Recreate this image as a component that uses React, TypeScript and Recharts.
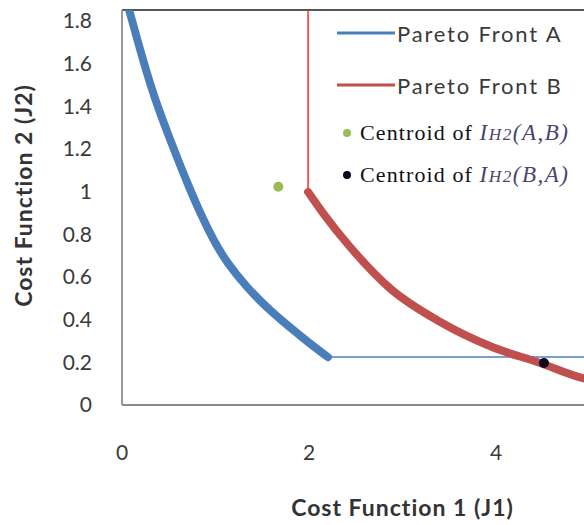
import React from 'react';
import { ScatterChart, Scatter, XAxis, YAxis, ReferenceLine } from 'recharts';

// Pareto front A (thick blue curve) and its dominated-region boundary
const frontA = [
  { x: 0.07, y: 1.86 },
  { x: 0.193, y: 1.665 },
  { x: 0.299, y: 1.505 },
  { x: 0.406, y: 1.368 },
  { x: 0.513, y: 1.245 },
  { x: 0.62, y: 1.125 },
  { x: 0.727, y: 1.01 },
  { x: 0.834, y: 0.902 },
  { x: 0.973, y: 0.776 },
  { x: 1.123, y: 0.665 },
  { x: 1.337, y: 0.55 },
  { x: 1.551, y: 0.455 },
  { x: 1.797, y: 0.363 },
  { x: 2.011, y: 0.287 },
  { x: 2.203, y: 0.224 },
];
const boundA = [
  { x: 2.203, y: 0.225 },
  { x: 6, y: 0.225 },
];

// Pareto front B (thick red curve) and its vertical boundary
const frontB = [
  { x: 1.99, y: 0.998 },
  { x: 2.15, y: 0.899 },
  { x: 2.44, y: 0.74 },
  { x: 2.87, y: 0.545 },
  { x: 3.4, y: 0.39 },
  { x: 3.94, y: 0.275 },
  { x: 4.47, y: 0.197 },
  { x: 4.93, y: 0.126 },
  { x: 5.5, y: 0.09 },
];
const boundB = [
  { x: 1.99, y: 0.998 },
  { x: 1.99, y: 1.85 },
];

// Centroids of the hypervolume indicators
const centroidAB = [{ x: 1.672, y: 1.022 }];
const centroidBA = [{ x: 4.513, y: 0.197 }];

const xTicks = [0, 2, 4];
const yTicks = [0, 0.2, 0.4, 0.6, 0.8, 1, 1.2, 1.4, 1.6, 1.8];
const yTickLabels = ['0', '0.2', '0.4', '0.6', '0.8', '1', '1.2', '1.4', '1.6', '1.8'];

const X_MAX = 6;
const Y_MAX = 1.85;

const BLUE = '#4A7EBB';
const RED = '#C0504D';
const RED_THIN = '#FF2A2A';
const GREEN = '#9BBB59';
const DARK = '#0A0A1E';

const SANS = 'Lato, "Open Sans", sans-serif';
const SERIF = '"Liberation Serif", "DejaVu Serif", serif';
const TEXT = '#3a3a3a';

const noPoint = () => <g />;

const dot = (color: string) => (props: any) => (
  <circle cx={props.cx} cy={props.cy} r={5} fill={color} />
);

const titleStyle = {
  fontFamily: SANS,
  fontWeight: 700,
  fontSize: 23,
  letterSpacing: 1,
  fill: '#333',
};

const yTitle = (props: any) => {
  const vb = props.viewBox;
  const cx = vb.x + 23;
  const cy = vb.y + vb.height / 2 - 12;
  return (
    <text
      x={cx}
      y={cy}
      transform={`rotate(-90 ${cx} ${cy})`}
      textAnchor="middle"
      dominantBaseline="central"
      style={titleStyle}
    >
      Cost Function 2 (J2)
    </text>
  );
};

const xTitle = (props: any) => {
  const vb = props.viewBox;
  return (
    <text
      x={vb.x + vb.width / 2}
      y={vb.y + 102}
      textAnchor="middle"
      dominantBaseline="central"
      style={titleStyle}
    >
      Cost Function 1 (J1)
    </text>
  );
};

const indicator = (args: string) => (
  <span
    style={{
      fontFamily: SERIF,
      fontStyle: 'italic',
      fontSize: 23,
      letterSpacing: 1.5,
      color: '#4b4470',
    }}
  >
    I<span style={{ fontSize: '0.75em' }}>H2</span>
    {args}
  </span>
);

const legendRows = [
  { kind: 'line', color: BLUE, label: 'Pareto Front A', top: 0 },
  { kind: 'line', color: RED, label: 'Pareto Front B', top: 52 },
  { kind: 'dot', color: GREEN, label: '(A,B)', top: 100 },
  { kind: 'dot', color: DARK, label: '(B,A)', top: 142 },
];

const ChartLegend = () => (
  <div style={{ position: 'absolute', left: 337, top: 20, width: 250, height: 170 }}>
    {legendRows.map((row) => (
      <div
        key={row.label}
        style={{
          position: 'absolute',
          left: 0,
          top: row.top,
          height: 26,
          display: 'flex',
          alignItems: 'center',
          whiteSpace: 'nowrap',
        }}
      >
        {row.kind === 'line' ? (
          <>
            <svg width={60} height={26} style={{ display: 'block' }}>
              <line x1={0} y1={13} x2={58} y2={13} stroke={row.color} strokeWidth={3} />
            </svg>
            <span style={{ fontFamily: SANS, fontSize: 22, letterSpacing: 1.8, color: TEXT }}>
              {row.label}
            </span>
          </>
        ) : (
          <>
            <svg width={23} height={26} style={{ display: 'block' }}>
              <circle cx={10} cy={13} r={4} fill={row.color} />
            </svg>
            <span style={{ fontFamily: SERIF, fontSize: 22, letterSpacing: 1.1, color: '#111' }}>
              Centroid of&nbsp;
            </span>
            {indicator(row.label)}
          </>
        )}
      </div>
    ))}
  </div>
);

export default function App() {
  return (
    <div
      style={{
        position: 'absolute',
        left: 0,
        top: 0,
        width: 584,
        height: 525,
        overflow: 'hidden',
        background: '#fff',
      }}
    >
      <ScatterChart
        width={693}
        height={525}
        margin={{ top: 10, right: 10, bottom: 0, left: 0 }}
      >
        <XAxis
          type="number"
          dataKey="x"
          domain={[0, X_MAX]}
          ticks={xTicks}
          interval={0}
          allowDataOverflow
          height={120}
          tickLine={false}
          tickSize={0}
          tickMargin={40}
          axisLine={{ stroke: '#8a8a8a', strokeWidth: 2 }}
          tick={{ fontFamily: SANS, fontSize: 21, fill: TEXT }}
          label={{ content: xTitle }}
        />
        <YAxis
          type="number"
          dataKey="y"
          domain={[0, Y_MAX]}
          ticks={yTicks}
          interval={0}
          allowDataOverflow
          width={122}
          tickLine={false}
          tickSize={0}
          tickMargin={30}
          axisLine={{ stroke: '#9a9a9a', strokeWidth: 2 }}
          tick={{ fontFamily: SANS, fontSize: 21, fill: TEXT }}
          tickFormatter={(v: number) => yTickLabels[yTicks.indexOf(v)] ?? String(v)}
          label={{ content: yTitle }}
        />
        <ReferenceLine y={Y_MAX} stroke="#555" strokeWidth={2} />
        <Scatter
          name="boundA"
          data={boundA}
          line={{ stroke: '#4F81BD', strokeWidth: 1.5 }}
          lineType="joint"
          shape={noPoint}
          isAnimationActive={false}
        />
        <Scatter
          name="boundB"
          data={boundB}
          line={{ stroke: RED_THIN, strokeWidth: 1.5 }}
          lineType="joint"
          shape={noPoint}
          isAnimationActive={false}
        />
        <Scatter
          name="Pareto Front A"
          data={frontA}
          line={{ stroke: BLUE, strokeWidth: 8, strokeLinecap: 'round', strokeLinejoin: 'round' }}
          lineType="joint"
          lineJointType="basis"
          shape={noPoint}
          isAnimationActive={false}
        />
        <Scatter
          name="Pareto Front B"
          data={frontB}
          line={{ stroke: RED, strokeWidth: 8, strokeLinecap: 'round', strokeLinejoin: 'round' }}
          lineType="joint"
          lineJointType="monotoneX"
          shape={noPoint}
          isAnimationActive={false}
        />
        <Scatter
          name="Centroid AB"
          data={centroidAB}
          shape={dot(GREEN)}
          isAnimationActive={false}
        />
        <Scatter
          name="Centroid BA"
          data={centroidBA}
          shape={dot(DARK)}
          isAnimationActive={false}
        />
      </ScatterChart>
      <ChartLegend />
    </div>
  );
}
